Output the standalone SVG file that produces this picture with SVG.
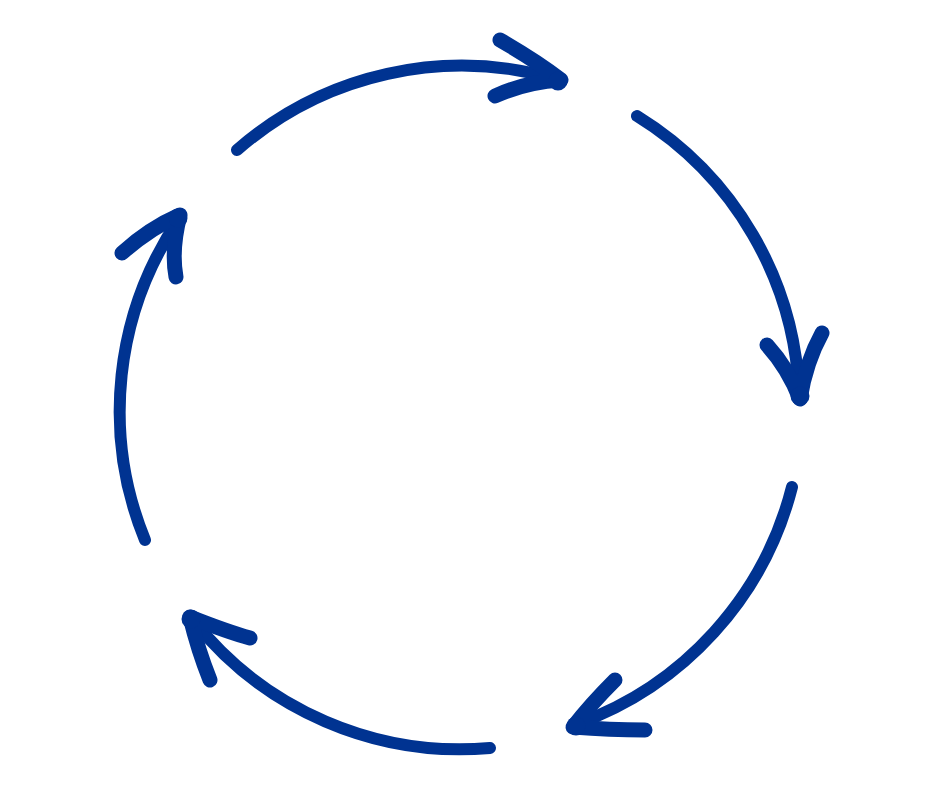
<svg xmlns="http://www.w3.org/2000/svg" width="940" height="788" viewBox="0 0 940 788">
<style>
.arc{fill:none;stroke:#003391;stroke-width:12;stroke-linecap:round}
.head{fill:none;stroke:#003391;stroke-width:15;stroke-linecap:round;stroke-linejoin:round}
.tip{fill:#003391}
</style>
<rect width="940" height="788" fill="#ffffff"/>
<g id="connectors">
<g id="arrow1"><path class="arc" d="M237,150 A341,341 0 0 1 556,79"/><path class="head" d="M500,40 Q538,62 561,80 Q526,82 495,96"/><circle class="tip" cx="558" cy="81" r="9.5"/></g>
<g id="arrow2"><path class="arc" d="M637,116 A341,341 0 0 1 799,394"/><path class="head" d="M767,345 Q788,368 800,399 Q806,362 822,333"/><circle class="tip" cx="800" cy="396" r="9.5"/></g>
<g id="arrow3"><path class="arc" d="M792,487 A341,341 0 0 1 577,724"/><path class="head" d="M615,680 Q590,705 573,727 Q610,730 645,730"/><circle class="tip" cx="576" cy="726" r="9.5"/></g>
<g id="arrow4"><path class="arc" d="M490,748 A341,341 0 0 1 193,620"/><path class="head" d="M250,638 Q228,632 190,617 Q198,650 210,680"/><circle class="tip" cx="191" cy="619" r="9.5"/></g>
<g id="arrow5"><path class="arc" d="M145,540 A341,341 0 0 1 179,219"/><path class="head" d="M122,253 Q150,228 180,215 Q171,250 176,277"/><circle class="tip" cx="178" cy="218" r="9.5"/></g>
</g>
</svg>
